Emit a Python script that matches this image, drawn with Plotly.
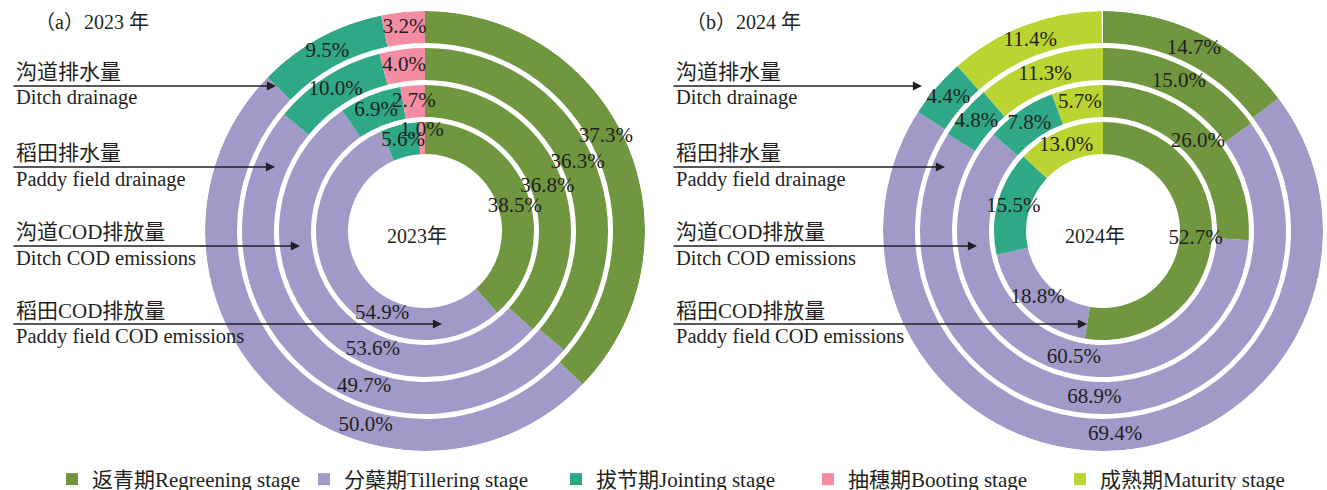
import plotly.graph_objects as go

W, H = 1327, 500   # page window is 490 tall; extra 10px is clipped

# ---------------- data ----------------
rings = ["沟道排水量", "稻田排水量", "沟道COD排放量", "稻田COD排放量"]
rings_en = ["Ditch drainage", "Paddy field drainage", "Ditch COD emissions", "Paddy field COD emissions"]

stages_2023 = ["返青期", "分蘖期", "拔节期", "抽穗期"]
# values per ring: ditch drainage, paddy drainage, ditch COD, paddy COD
regreening_2023 = [37.3, 36.3, 36.8, 38.5]
tillering_2023 = [50.0, 49.7, 53.6, 54.9]
jointing_2023 = [9.5, 10.0, 6.9, 5.6]
booting_2023 = [3.2, 4.0, 2.7, 1.0]

stages_2024 = ["返青期", "分蘖期", "拔节期", "成熟期"]
regreening_2024 = [14.7, 15.0, 26.0, 52.7]
tillering_2024 = [69.4, 68.9, 60.5, 18.8]
jointing_2024 = [4.4, 4.8, 7.8, 15.5]
maturity_2024 = [11.4, 11.3, 5.7, 13.0]

legend_names = {
    "返青期": "返青期Regreening stage",
    "分蘖期": "分蘖期Tillering stage",
    "拔节期": "拔节期Jointing stage",
    "抽穗期": "抽穗期Booting stage",
    "成熟期": "成熟期Maturity stage",
}
colors = {
    "返青期": "#709740",
    "分蘖期": "#A19AC9",
    "拔节期": "#2EA887",
    "抽穗期": "#F48CA4",
    "成熟期": "#BBD432",
}

# ---------------- style ----------------
R_OUTER = [220, 183, 146, 109]
THICK = 32
FONT = "Liberation Serif, 'Noto Sans CJK SC', serif"
TXT = "#231f20"
# where along a segment its label sits (0 = start, 1 = end), default middle
LABEL_FRAC = {
    ("polar", "返青期"): [0.465, 0.505, 0.53, 0.54],
    ("polar", "分蘖期"): [0.348, 0.395, 0.369, 0.348],
    ("polar2", "分蘖期"): [0.495, 0.52, 0.456, 0.515],
}
LABEL_DR = {("polar", "抽穗期"): [0, 0, 0, 7]}


def px(x):
    return x / W


def py(y):
    return 1 - y / H


fig = go.Figure()
shown = set()


def add_chart(polar_id, stages, series):
    n = len(rings)
    cum = [0.0] * n
    tx_r, tx_t, tx_s = [], [], []
    for stage, vals in zip(stages, series):
        thetas = [(cum[i] + vals[i] / 2) * 3.6 for i in range(n)]
        widths = [v * 3.6 for v in vals]
        bases = [R_OUTER[i] - THICK for i in range(n)]
        fig.add_trace(go.Barpolar(
            theta=thetas, width=widths, base=bases, r=[THICK] * n,
            marker=dict(color=colors[stage], line=dict(width=0)),
            name=legend_names[stage], legendgroup=stage,
            showlegend=stage not in shown, subplot=polar_id,
            hoverinfo="skip",
        ))
        shown.add(stage)
        frac = LABEL_FRAC.get((polar_id, stage), [0.5] * n)
        dr = LABEL_DR.get((polar_id, stage), [0] * n)
        for i in range(n):
            tx_r.append(R_OUTER[i] - THICK / 2 + dr[i])
            tx_t.append((cum[i] + vals[i] * frac[i]) * 3.6)
            tx_s.append(f"{vals[i]:.1f}%")
        cum = [cum[i] + vals[i] for i in range(n)]
    fig.add_trace(go.Scatterpolar(
        r=tx_r, theta=tx_t, text=tx_s, mode="text",
        textfont=dict(family=FONT, size=21, color=TXT),
        showlegend=False, subplot=polar_id, hoverinfo="skip",
    ))


add_chart("polar", stages_2023,
          [regreening_2023, tillering_2023, jointing_2023, booting_2023])
add_chart("polar2", stages_2024,
          [regreening_2024, tillering_2024, jointing_2024, maturity_2024])

R = 220
centers = [(425, 231), (1103, 231)]


def polar_layout(cx, cy):
    return dict(
        domain=dict(x=[px(cx - R), px(cx + R)], y=[py(cy + R), py(cy - R)]),
        bgcolor="rgba(0,0,0,0)",
        radialaxis=dict(range=[0, R], visible=False, showgrid=False),
        angularaxis=dict(rotation=90, direction="clockwise", visible=False,
                         showgrid=False, thetaunit="degrees"),
        hole=0,
    )


def note(x, y, text, size, xanchor="left"):
    return dict(x=px(x), y=py(y), xref="paper", yref="paper", text=text,
                showarrow=False, xanchor=xanchor, yanchor="middle",
                font=dict(family=FONT, size=size, color=TXT))


annotations = []
for (cx, cy), title, center, tx in zip(centers, ["（a）2023 年", "（b）2024 年"],
                                       ["2023年", "2024年"], [33, 684]):
    annotations.append(note(tx, 22, title, 20))
    annotations.append(note(cx - 8, 236, center, 20, "center"))

label_y = [(72, 98, 86), (153, 179, 167), (232, 258, 246), (311, 336, 323)]
tips = [
    [(276, 86), (275, 167), (300, 246), (442, 324)],
    [(922, 86), (945, 167), (977, 246), (1087, 324)],
]
starts = [12, 672]
for k in range(2):
    x0 = starts[k]
    for i in range(4):
        ycn, yen, yar = label_y[i]
        annotations.append(note(x0 + 2, ycn, rings[i], 21))
        annotations.append(note(x0 + 2, yen, rings_en[i], 20.5))
        tx_, ty_ = tips[k][i]
        annotations.append(dict(x=px(tx_), y=py(ty_), xref="paper", yref="paper",
                                text="", showarrow=True, ax=-(tx_ - x0), ay=0,
                                arrowhead=2, arrowsize=1.3, arrowwidth=1.4,
                                arrowcolor=TXT, standoff=0, startstandoff=0))

fig.update_layout(
    width=W, height=H,
    margin=dict(l=0, r=0, t=0, b=0),
    paper_bgcolor="white", plot_bgcolor="white",
    polar=polar_layout(*centers[0]),
    polar2=polar_layout(*centers[1]),
    annotations=annotations,
    showlegend=True,
    legend=dict(orientation="h", x=px(52), y=0, xanchor="left", yanchor="bottom",
                font=dict(family=FONT, size=21, color=TXT),
                entrywidth=207, entrywidthmode="pixels",
                bgcolor="rgba(0,0,0,0)", itemsizing="constant"),
    font=dict(family=FONT, color=TXT),
)

fig.write_html(
    "out.html",
    config={"displayModeBar": False},
    post_script="document.body.style.margin='0';"
                "document.body.style.overflow='hidden';"
                "document.documentElement.style.overflow='hidden';",
)
